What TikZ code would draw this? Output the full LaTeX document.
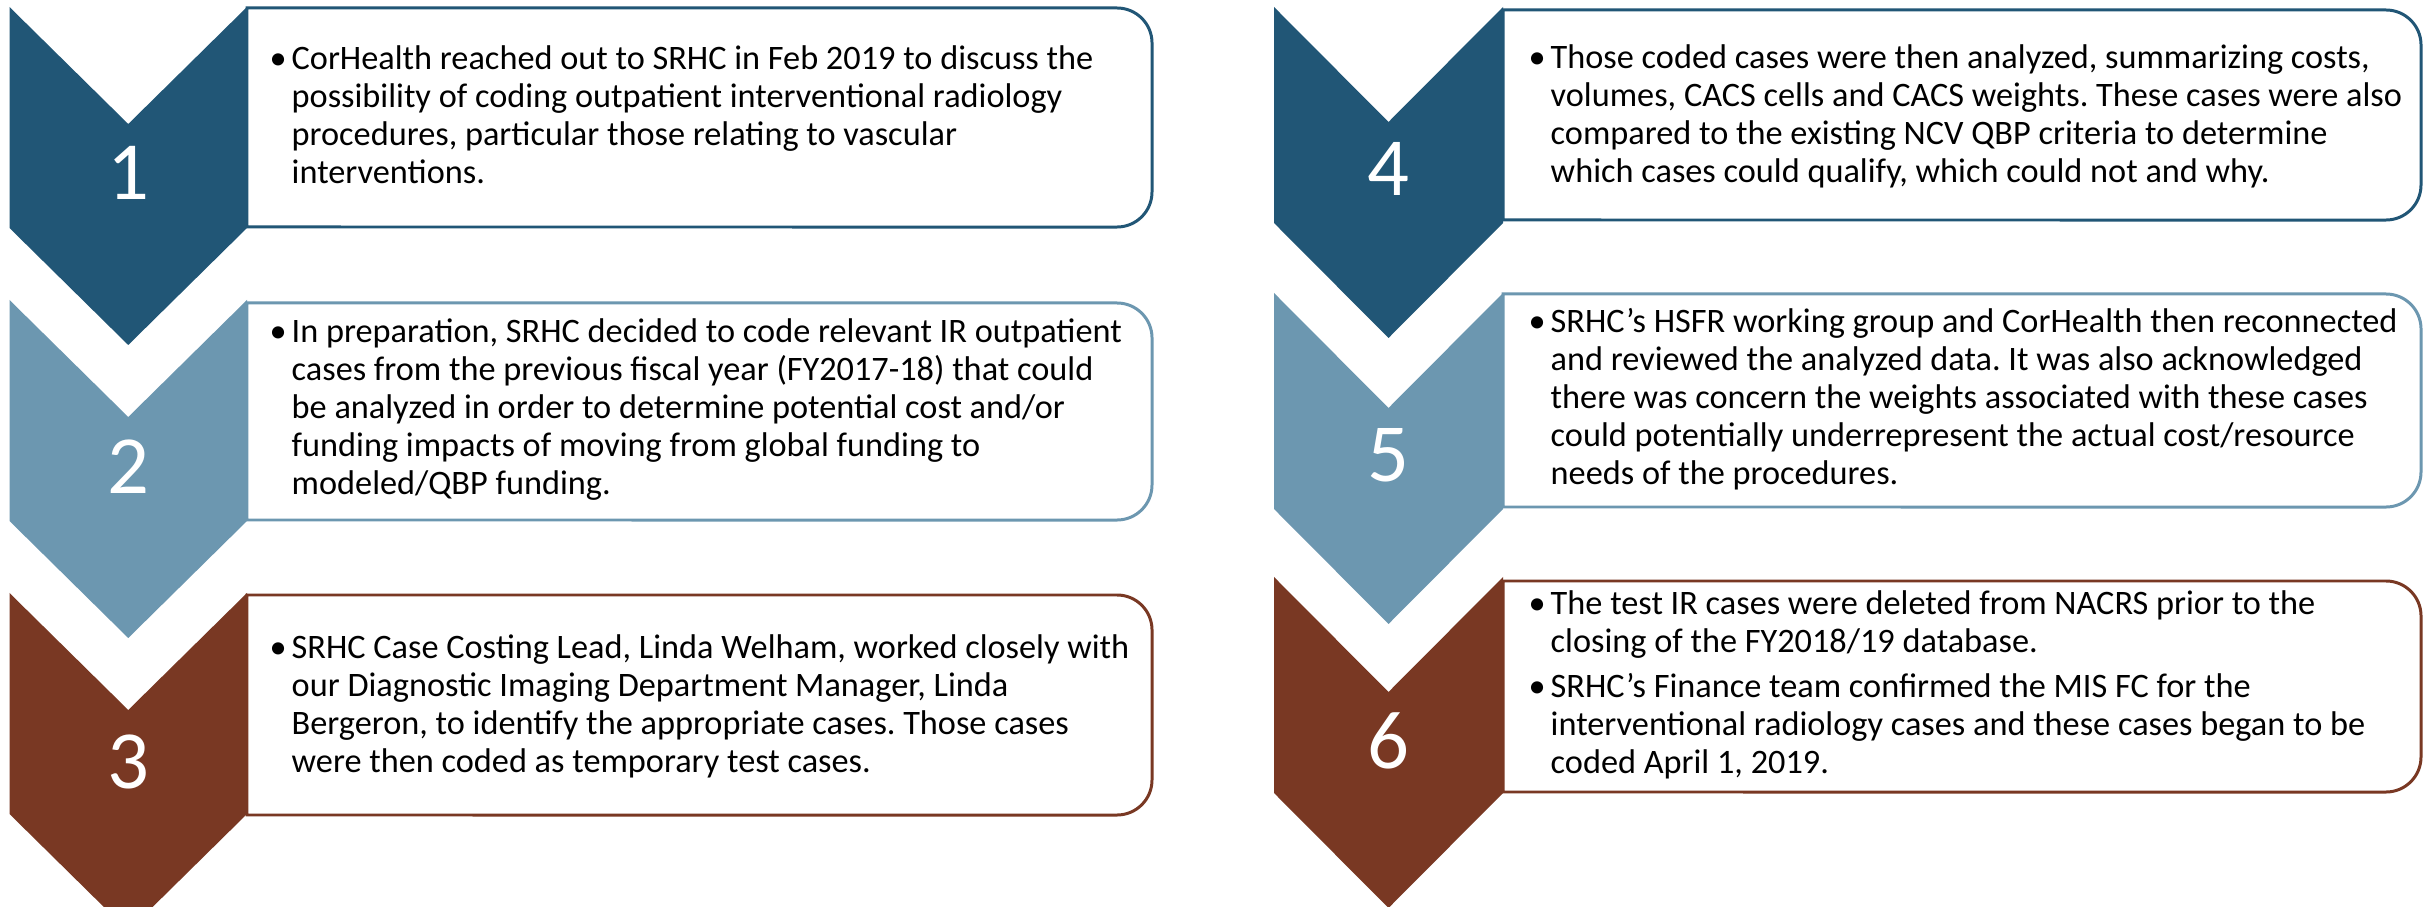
\documentclass[tikz,border=0pt]{standalone}
\usepackage{fontspec}
\setmainfont{Carlito}
\frenchspacing
\definecolor{dblue}{RGB}{33,86,118}
\definecolor{lblue}{RGB}{108,151,176}
\definecolor{brown}{RGB}{121,56,35}
\newcommand{\bul}{\noindent\hspace*{-0.22cm}\makebox[0.22cm][l]{•}}
\newcommand{\infobox}[5]{%
  \draw[boxline, draw=#5] (#1,#2) -- ({#3-35},#2) arc[start angle=90,end angle=0,radius=0.35cm]
    -- (#3,{#4-35}) arc[start angle=0,end angle=-90,radius=0.35cm] -- (#1,#4) -- cycle;}
\newcommand{\chevron}[6]{%
  \fill[#6] (#1,#3) -- ({(#1+#2)/2},{#3+#4}) -- (#2,#3) -- (#2,{#3+#5})
    -- ({(#1+#2)/2},{#3+#5+#4}) -- (#1,{#3+#5}) -- cycle;}
\newcommand{\bodybox}[1]{\parbox[t]{9.5cm}{\frenchspacing\leftskip=0.22cm\rightskip=0pt plus 1fil\parindent=0pt #1}}
\begin{document}
\begin{tikzpicture}[x=0.01cm,y=-0.01cm,
  boxline/.style={line width=0.85pt, fill=white},
  numtxt/.style={text=white, inner sep=0pt, font=\fontsize{23.5pt}{28pt}\selectfont},
  bodytxt/.style={anchor=base west, inner sep=0pt, font=\fontsize{9.75pt}{0.378cm}\selectfont}]
\useasboundingbox (0,0) rectangle (2427,907);
\fill[white] (0,0) rectangle (2427,907);
% left column boxes
\infobox{247}{8}{1152}{227}{dblue}
\infobox{247}{303}{1152}{520}{lblue}
\infobox{247}{595}{1152}{815}{brown}
% right column boxes
\infobox{1503}{10}{2421}{220}{dblue}
\infobox{1503}{294}{2421}{507}{lblue}
\infobox{1503}{581}{2421}{792}{brown}
% chevrons
\chevron{9.5}{247}{7}{117}{221}{dblue}
\chevron{9.5}{247}{300}{117}{221}{lblue}
\chevron{9.5}{247}{593}{117}{221}{brown}
\chevron{1274}{1503}{7}{115}{216}{dblue}
\chevron{1274}{1503}{293}{115}{216}{lblue}
\chevron{1274}{1503}{577}{115}{216}{brown}
% numbers
\node[numtxt] (n1) at (128.25,173) {1};
\node[numtxt] (n2) at (128.25,467) {2};
\node[numtxt] (n3) at (128.25,762) {3};
\node[numtxt] (n4) at (1388.5,169) {4};
\node[numtxt] (n5) at (1388.5,455) {5};
\node[numtxt] (n6) at (1388.5,741) {6};
% texts
\node[bodytxt] (t1) at (269,70) {\bodybox{\bul CorHealth reached out to SRHC in Feb 2019 to discuss the\newline possibility of coding outpatient interventional radiology\newline procedures, particular those relating to vascular\newline interventions.}};
\node[bodytxt] (t2) at (269,343) {\bodybox{\bul In preparation, SRHC decided to code relevant IR outpatient\newline cases from the previous fiscal year (FY2017-18) that could\newline be analyzed in order to determine potential cost and/or\newline funding impacts of moving from global funding to\newline modeled/QBP funding.}};
\node[bodytxt] (t3) at (269,659) {\bodybox{\bul SRHC Case Costing Lead, Linda Welham, worked closely with\newline our Diagnostic Imaging Department Manager, Linda\newline Bergeron, to identify the appropriate cases. Those cases\newline were then coded as temporary test cases.}};
\node[bodytxt] (t4) at (1528,69) {\bodybox{\bul Those coded cases were then analyzed, summarizing costs,\newline volumes, CACS cells and CACS weights. These cases were also\newline compared to the existing NCV QBP criteria to determine\newline which cases could qualify, which could not and why.}};
\node[bodytxt] (t5) at (1528,333) {\bodybox{\bul SRHC’s HSFR working group and CorHealth then reconnected\newline and reviewed the analyzed data. It was also acknowledged\newline there was concern the weights associated with these cases\newline could potentially underrepresent the actual cost/resource\newline needs of the procedures.}};
\node[bodytxt] (t6) at (1528,615) {\bodybox{\bul The test IR cases were deleted from NACRS prior to the\newline closing of the FY2018/19 database.\par\vspace{0.07cm}\bul SRHC’s Finance team confirmed the MIS FC for the\newline interventional radiology cases and these cases began to be\newline coded April 1, 2019.}};
\end{tikzpicture}
\end{document}
